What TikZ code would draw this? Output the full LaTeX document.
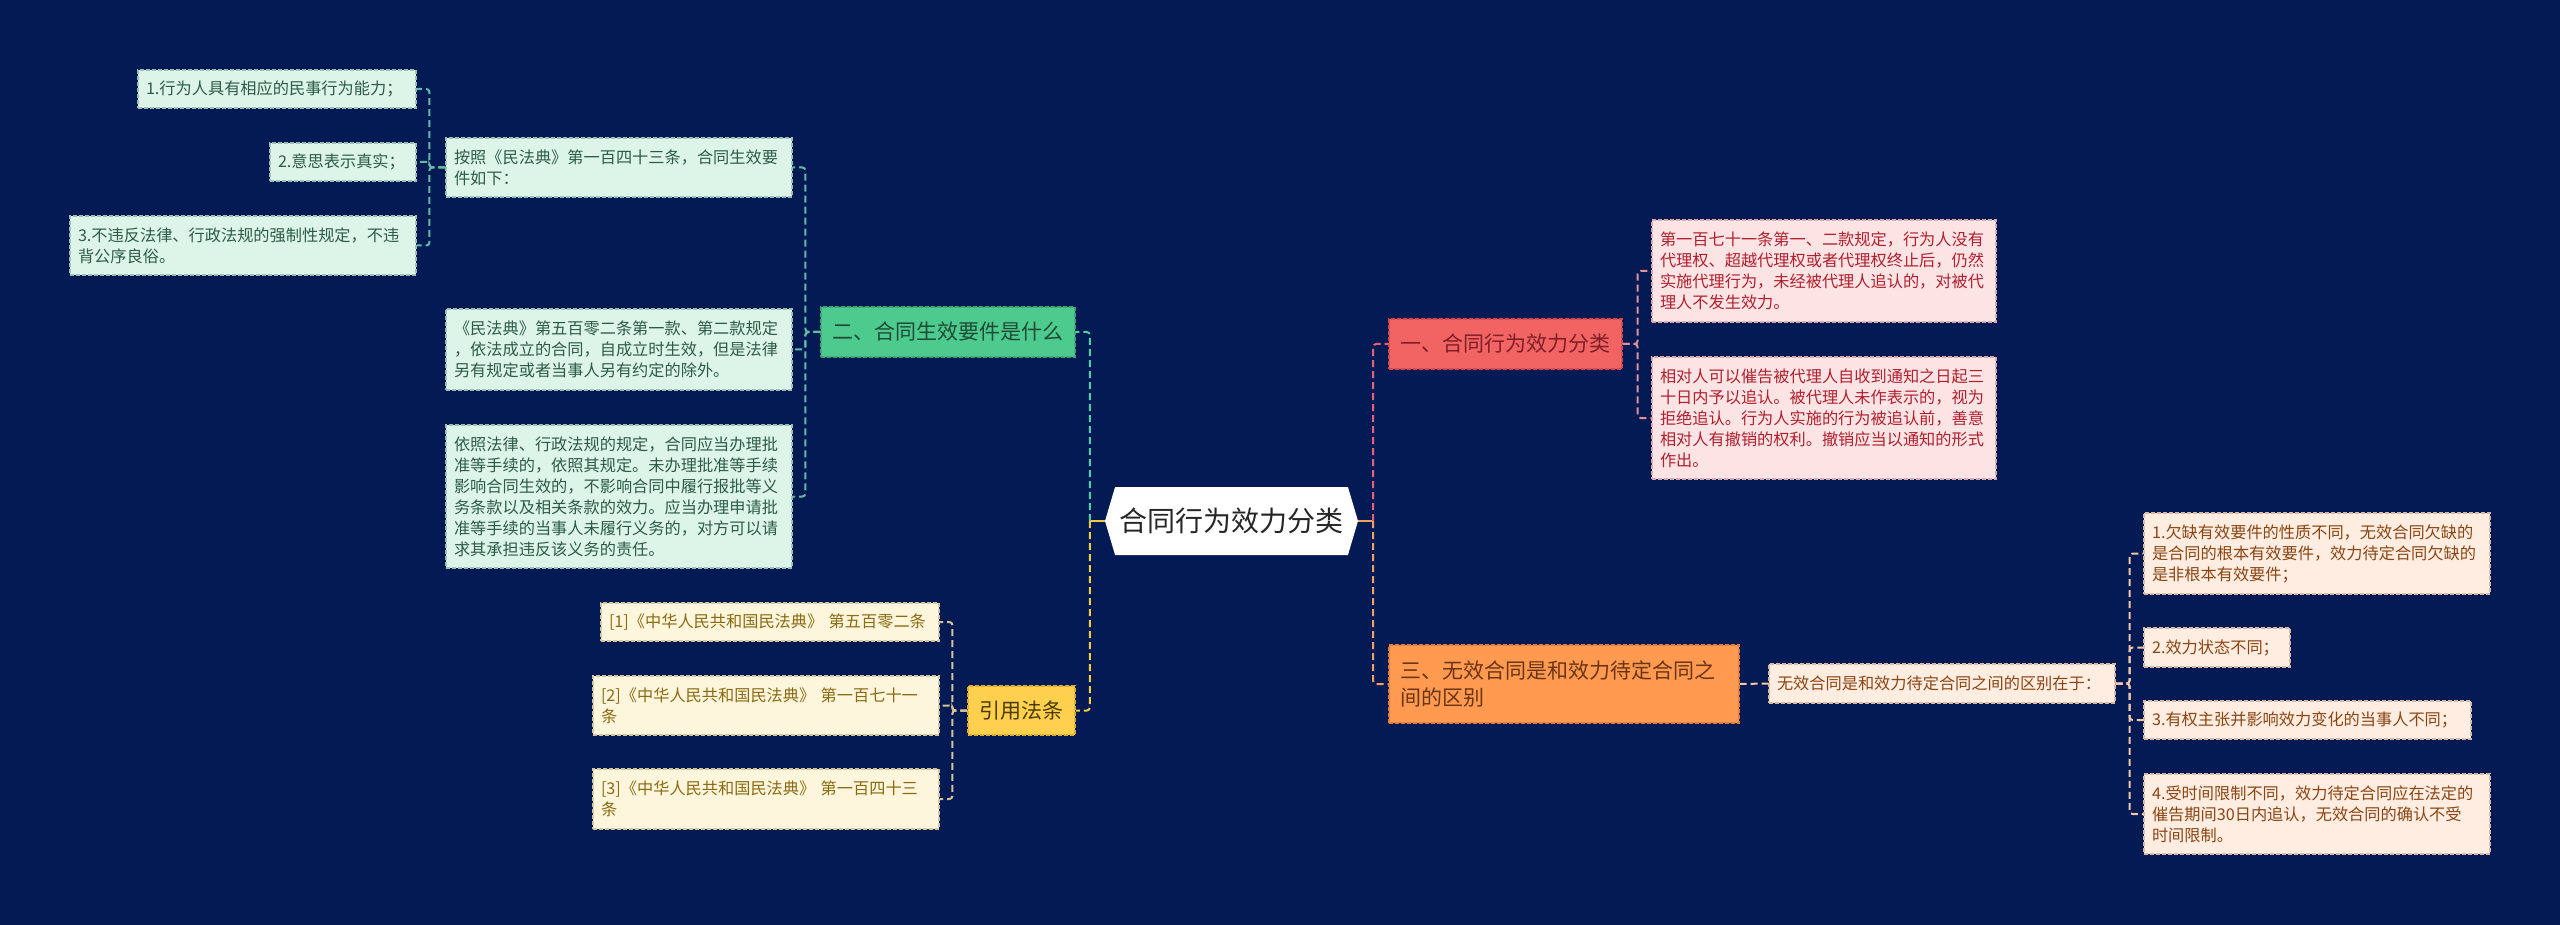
\documentclass[tikz,border=0pt]{standalone}
\usepackage{fontspec}
\setmainfont{Noto Sans CJK SC}
\usetikzlibrary{shapes.symbols}
\definecolor{bg}{HTML}{031A54}
% green
\definecolor{gbrf}{HTML}{4DCB8E}\definecolor{gbrd}{HTML}{3AA874}\definecolor{gbrt}{HTML}{1E4A36}
\definecolor{glff}{HTML}{DDF5E9}\definecolor{glfd}{HTML}{9DBFB2}\definecolor{glft}{HTML}{2D5B48}
\definecolor{gln}{HTML}{4FCFA5}\definecolor{glsub}{HTML}{62BBA4}
% yellow
\definecolor{ybrf}{HTML}{FFD04D}\definecolor{ybrd}{HTML}{E0AE2E}\definecolor{ybrt}{HTML}{4A3B00}
\definecolor{ylff}{HTML}{FEF6DC}\definecolor{ylfd}{HTML}{D3C59C}\definecolor{ylft}{HTML}{8A6A12}
\definecolor{yln}{HTML}{F2CC3D}\definecolor{ylsub}{HTML}{D6C396}
% red
\definecolor{rbrf}{HTML}{F26464}\definecolor{rbrd}{HTML}{D84A4A}\definecolor{rbrt}{HTML}{7E1F25}
\definecolor{plff}{HTML}{FDE4E4}\definecolor{plfd}{HTML}{D9A8AC}\definecolor{plft}{HTML}{B02030}
\definecolor{rln}{HTML}{E8607A}\definecolor{rlsub}{HTML}{E3909C}
% orange
\definecolor{obrf}{HTML}{FF9A50}\definecolor{obrd}{HTML}{E07E3A}\definecolor{obrt}{HTML}{6B3414}
\definecolor{olff}{HTML}{FEEDE0}\definecolor{olfd}{HTML}{D9B9A3}\definecolor{olft}{HTML}{8B4513}
\definecolor{oln}{HTML}{F5A060}\definecolor{olsub}{HTML}{F2C8A6}
\begin{document}
\begin{tikzpicture}[x=1pt,y=-1pt,
  base/.style={inner xsep=8pt, inner ysep=0pt, align=left, dash pattern=on 4pt off 2pt, line width=1.2pt},
  leaffont/.style={font=\fontsize{16.2}{21}\selectfont},
  brfont/.style={font=\fontsize{21}{27}\selectfont},
  gleaf/.style={base, leaffont, fill=glff, draw=glfd, text=glft},
  yleaf/.style={base, leaffont, fill=ylff, draw=ylfd, text=ylft},
  pleaf/.style={base, leaffont, fill=plff, draw=plfd, text=plft},
  oleaf/.style={base, leaffont, fill=olff, draw=olfd, text=olft},
  gbr/.style={base, brfont, align=center, fill=gbrf, draw=gbrd, text=gbrt},
  ybr/.style={base, brfont, align=center, fill=ybrf, draw=ybrd, text=ybrt},
  rbr/.style={base, brfont, align=center, fill=rbrf, draw=rbrd, text=rbrt},
  obr/.style={base, brfont, fill=obrf, draw=obrd, text=obrt},
  centre/.style={signal, signal to=west and east, signal pointer angle=147, fill=white,
    minimum width=253pt, minimum height=68pt, inner sep=0pt,
    font=\fontsize{28}{34}\selectfont, text=black!85},
  conn/.style={line width=2pt, dash pattern=on 7pt off 4pt, rounded corners=3pt},
  solidconn/.style={line width=2pt},
]
\fill[bg] (0,0) rectangle (2560,925);
\useasboundingbox (0,0) rectangle (2560,925);

% centre
\node[centre] (c) at (1231.5,521) {合同行为效力分类};

% green branch
\node[gbr, minimum width=254pt, minimum height=50pt] (gb) at (948,332) {二、合同生效要件是什么};
\node[gleaf, minimum height=59pt, text width=330pt] (g1) at (619,167.5) {按照《民法典》第一百四十三条，合同生效要\\件如下：};
\node[gleaf, minimum height=81pt, text width=330pt] (g2) at (619,349.5) {《民法典》第五百零二条第一款、第二款规定\\，依法成立的合同，自成立时生效，但是法律\\另有规定或者当事人另有约定的除外。};
\node[gleaf, minimum height=143pt, text width=330pt] (g3) at (619,496.5) {依照法律、行政法规的规定，合同应当办理批\\准等手续的，依照其规定。未办理批准等手续\\影响合同生效的，不影响合同中履行报批等义\\务条款以及相关条款的效力。应当办理申请批\\准等手续的当事人未履行义务的，对方可以请\\求其承担违反该义务的责任。};
\node[gleaf, minimum height=38pt, text width=262pt] (a1) at (277,89) {1.行为人具有相应的民事行为能力；};
\node[gleaf, minimum height=38pt, text width=130pt] (a2) at (343,162) {2.意思表示真实；};
\node[gleaf, minimum height=59pt, text width=330pt] (a3) at (243,245.5) {3.不违反法律、行政法规的强制性规定，不违\\背公序良俗。};

% yellow branch
\node[ybr, minimum width=107pt, minimum height=49pt] (yb) at (1021.5,710.5) {引用法条};
\node[yleaf, minimum height=38pt, text width=322pt] (y1) at (770,622) {[1]《中华人民共和国民法典》~第五百零二条};
\node[yleaf, minimum height=59pt, text width=330pt] (y2) at (766,705.5) {[2]《中华人民共和国民法典》~第一百七十一\\条};
\node[yleaf, minimum height=60pt, text width=330pt] (y3) at (766,799) {[3]《中华人民共和国民法典》~第一百四十三\\条};

% red branch
\node[rbr, minimum width=233pt, minimum height=50pt] (rb) at (1505.5,344) {一、合同行为效力分类};
\node[pleaf, minimum height=102pt, text width=328pt] (p1) at (1824,271) {第一百七十一条第一、二款规定，行为人没有\\代理权、超越代理权或者代理权终止后，仍然\\实施代理行为，未经被代理人追认的，对被代\\理人不发生效力。};
\node[pleaf, minimum height=122pt, text width=328pt] (p2) at (1824,418) {相对人可以催告被代理人自收到通知之日起三\\十日内予以追认。被代理人未作表示的，视为\\拒绝追认。行为人实施的行为被追认前，善意\\相对人有撤销的权利。撤销应当以通知的形式\\作出。};

% orange branch
\node[obr, minimum height=78pt, text width=328pt, inner xsep=11pt] (ob) at (1564,684) {三、无效合同是和效力待定合同之\\间的区别};
\node[oleaf, minimum height=39pt, text width=330pt] (o1) at (1942,683.5) {无效合同是和效力待定合同之间的区别在于：};
\node[oleaf, minimum height=81pt, text width=330pt] (r1) at (2317,553.5) {1.欠缺有效要件的性质不同，无效合同欠缺的\\是合同的根本有效要件，效力待定合同欠缺的\\是非根本有效要件；};
\node[oleaf, minimum height=39pt, text width=130pt] (r2) at (2217,647.5) {2.效力状态不同；};
\node[oleaf, minimum height=38pt, text width=311pt] (r3) at (2307.5,720) {3.有权主张并影响效力变化的当事人不同；};
\node[oleaf, minimum height=80pt, text width=330pt] (r4) at (2317,814) {4.受时间限制不同，效力待定合同应在法定的\\催告期间30日内追认，无效合同的确认不受\\时间限制。};

% connectors: left side
\draw[solidconn, draw=yln] (c.west) -- ++(-15,0) coordinate (lh);
\draw[conn, draw=gln] (lh) |- (gb.east);
\draw[conn, draw=yln] (lh) |- (yb.east);
\foreach \t in {g1,g2,g3} \draw[conn, draw=glsub] (gb.west) -- ++(-15,0) |- (\t.east);
\foreach \t in {a1,a2,a3} \draw[conn, draw=glsub] (g1.west) -- ++(-16,0) |- (\t.east);
\foreach \t in {y1,y2,y3} \draw[conn, draw=ylsub] (yb.west) -- ++(-15,0) |- (\t.east);

% connectors: right side
\draw[solidconn, draw=oln] (c.east) -- ++(15,0) coordinate (rh);
\draw[conn, draw=rln] (rh) |- (rb.west);
\draw[conn, draw=oln] (rh) |- (ob.west);
\foreach \t in {p1,p2} \draw[conn, draw=rlsub] (rb.east) -- ++(15,0) |- (\t.west);
\draw[conn, draw=olsub] (ob.east) -- (o1.west);
\foreach \t in {r1,r2,r3,r4} \draw[conn, draw=olsub] (o1.east) -- ++(14,0) |- (\t.west);
\end{tikzpicture}
\end{document}
